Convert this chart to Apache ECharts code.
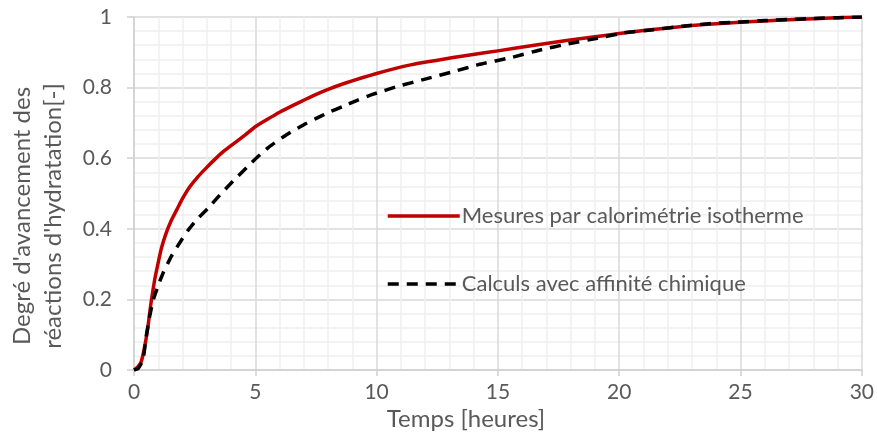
<html>
<head>
    <meta charset="utf-8" />
    <style>
        html, body { margin: 0; padding: 0; background: #fff; }
        #main { width: 877px; height: 434px; }
    </style>
</head>
<body>
    <div id="main"></div>
    <script src="https://cdn.jsdelivr.net/npm/echarts@6/dist/echarts.min.js"></script>
    <script>
        // mesures (calorimétrie isotherme)
        var timeMes = [0, 0.15, 0.3, 0.44, 0.57, 0.7, 0.85, 1.0, 1.13, 1.3, 1.54, 1.8, 2.02, 2.3, 2.64, 3.0, 3.32, 3.7, 4.14, 4.6, 5, 5.5, 6.0, 6.6, 7.35, 8.0, 8.72, 9.4, 10, 10.7, 11.45, 12.1, 12.8, 13.5, 14.18, 15, 16.5, 17.9, 19, 20, 21, 22, 23, 24, 25, 26, 27, 28, 29, 30];
        var fracMes = [0, 0.008, 0.024, 0.066, 0.12, 0.19, 0.255, 0.305, 0.345, 0.383, 0.424, 0.459, 0.488, 0.519, 0.548, 0.574, 0.596, 0.62, 0.643, 0.667, 0.689, 0.71, 0.73, 0.751, 0.776, 0.795, 0.813, 0.828, 0.84, 0.853, 0.865, 0.873, 0.881, 0.889, 0.896, 0.904, 0.92, 0.934, 0.944, 0.953, 0.962, 0.969, 0.976, 0.981, 0.985, 0.989, 0.992, 0.995, 0.998, 1.0];
        // calculs (affinité chimique)
        var timeCalc = [0, 0.16, 0.37, 0.5, 0.64, 0.8, 1.0, 1.2, 1.54, 1.9, 2.23, 2.6, 3.05, 3.45, 3.87, 4.3, 4.68, 5.1, 5.57, 6.32, 7.0, 7.49, 8.0, 8.65, 9.2, 9.8, 10.9, 12.0, 13.2, 14.2, 15.6, 16.7, 17.9, 19.1, 20.2, 21.4, 22.6, 23.7, 25, 26, 27, 28, 29, 30];
        var fracCalc = [0, 0.003, 0.028, 0.094, 0.15, 0.2, 0.24, 0.275, 0.322, 0.362, 0.396, 0.427, 0.458, 0.489, 0.52, 0.55, 0.576, 0.604, 0.632, 0.668, 0.695, 0.712, 0.729, 0.748, 0.764, 0.78, 0.804, 0.824, 0.846, 0.865, 0.886, 0.906, 0.924, 0.94, 0.955, 0.964, 0.974, 0.981, 0.986, 0.99, 0.993, 0.996, 0.998, 1.0];

        var nameMes = 'Mesures par calorimétrie isotherme';
        var nameCalc = 'Calculs avec affinité chimique';

        function pairs(xs, ys) {
            return xs.map(function (x, i) { return [x, ys[i]]; });
        }

        var font = 'Lato, "Open Sans", sans-serif';
        var txt = '#595959';

        var chart = echarts.init(document.getElementById('main'));
        var option = {
            animation: false,
            grid: { left: 134, right: 13, top: 17, bottom: 64 },
            legend: {
                orient: 'vertical',
                left: 381,
                top: 200,
                itemWidth: 72,
                itemHeight: 24,
                itemGap: 46,
                itemStyle: { opacity: 0 },
                lineStyle: { width: 3.5 },
                textStyle: { fontFamily: font, fontSize: 22, color: txt, padding: [0, 0, 0, -3] },
                data: [nameMes, nameCalc]
            },
            xAxis: {
                type: 'value',
                min: 0, max: 30, interval: 5,
                axisLine: { show: true, lineStyle: { color: '#d0d0d0', width: 1.5 } },
                axisTick: { show: true, length: 6, lineStyle: { color: '#d0d0d0', width: 1.5 } },
                axisLabel: { margin: 12, fontFamily: font, fontSize: 21, color: txt },
                splitLine: { lineStyle: { color: '#d9d9d9', width: 1.5 } },
                minorTick: { show: false, splitNumber: 5 },
                minorSplitLine: { show: true, lineStyle: { color: '#f0f0f0', width: 1.5 } }
            },
            yAxis: {
                type: 'value',
                min: 0, max: 1, interval: 0.2,
                axisLine: { show: true, lineStyle: { color: '#d0d0d0', width: 1.5 } },
                axisTick: { show: true, length: 7, lineStyle: { color: '#d0d0d0', width: 1.5 } },
                axisLabel: {
                    margin: 22, fontFamily: font, fontSize: 21, color: txt,
                    formatter: function (v) { return +v.toFixed(1) + ''; }
                },
                splitLine: { lineStyle: { color: '#d9d9d9', width: 1.5 } },
                minorTick: { show: false, splitNumber: 5 },
                minorSplitLine: { show: true, lineStyle: { color: '#f0f0f0', width: 1.5 } }
            },
            graphic: [
                {
                    type: 'text',
                    x: 466, y: 419,
                    style: {
                        text: 'Temps [heures]',
                        fontFamily: font, fontSize: 24, fill: txt,
                        align: 'center', verticalAlign: 'middle'
                    }
                },
                {
                    type: 'text',
                    x: 38, y: 216,
                    rotation: Math.PI / 2,
                    style: {
                        text: "Degré d'avancement des\nréactions d'hydratation[-]",
                        fontFamily: font, fontSize: 24, fill: txt, lineHeight: 31,
                        align: 'center', verticalAlign: 'middle'
                    }
                }
            ],
            series: [
                {
                    name: nameMes,
                    type: 'line',
                    data: pairs(timeMes, fracMes),
                    symbol: 'none',
                    smooth: 0.15,
                    itemStyle: { color: '#c00000' },
                    lineStyle: { color: '#c00000', width: 3.5, join: 'round' },
                    z: 2
                },
                {
                    name: nameCalc,
                    type: 'line',
                    data: pairs(timeCalc, fracCalc),
                    symbol: 'none',
                    smooth: 0.15,
                    itemStyle: { color: '#000' },
                    lineStyle: { color: '#000', width: 3.5, type: [11, 8], join: 'round' },
                    z: 3
                }
            ]
        };
        chart.setOption(option);
    </script>
</body>
</html>
